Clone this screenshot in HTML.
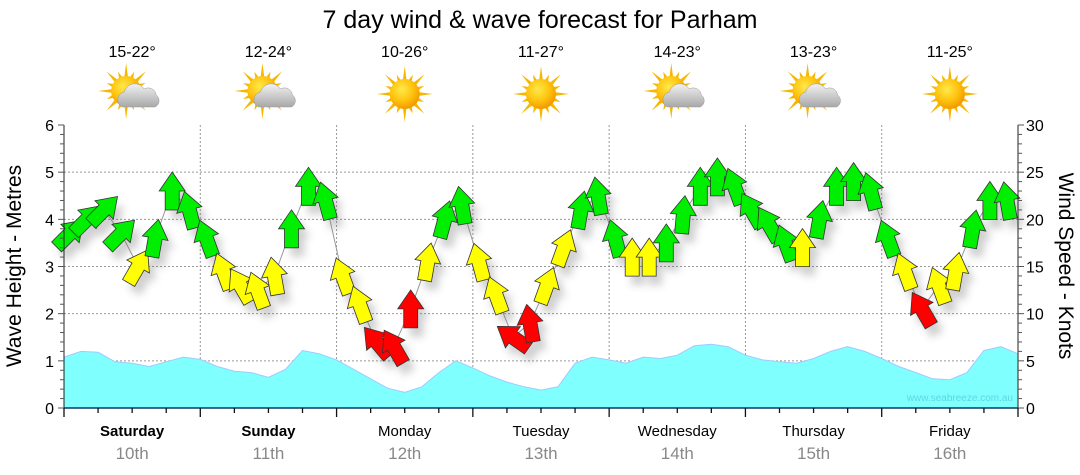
<!DOCTYPE html>
<html><head><meta charset="utf-8"><style>
body{margin:0;background:#fff;width:1080px;height:475px;overflow:hidden;font-family:"Liberation Sans","DejaVu Sans",sans-serif}
svg{display:block}
</style></head><body>
<svg id="chart" width="1080" height="475" xmlns="http://www.w3.org/2000/svg">
<defs>
<radialGradient id="sunG" cx="40%" cy="35%" r="65%"><stop offset="0" stop-color="#ffe94a"/><stop offset="0.6" stop-color="#ffc20e"/><stop offset="1" stop-color="#f29a00"/></radialGradient>
<linearGradient id="cloudG" x1="0" y1="0" x2="0" y2="1"><stop offset="0" stop-color="#f2f2f2"/><stop offset="1" stop-color="#a8a8a8"/></linearGradient>
<filter id="sh" x="-50%" y="-50%" width="200%" height="200%"><feGaussianBlur stdDeviation="4"/></filter>
</defs>
<text x="540" y="28" text-anchor="middle" font-size="25" fill="#000">7 day wind &amp; wave forecast for Parham</text>
<g id="grid"></g>
<g id="waves"></g>
<text x="1013" y="401" text-anchor="end" font-size="10" fill="#5fd6e0">www.seabreeze.com.au</text>
<g id="wind"></g>
<g id="axes"></g>
<g id="days"></g>
<text transform="translate(21,266) rotate(-90)" text-anchor="middle" font-size="21" fill="#000">Wave Height - Metres</text>
<text transform="translate(1059,266) rotate(90)" text-anchor="middle" font-size="21" fill="#000">Wind Speed - Knots</text>
</svg>
<script>
const dayNames=["Saturday","Sunday","Monday","Tuesday","Wednesday","Thursday","Friday"];
const dayDates=["10th","11th","12th","13th","14th","15th","16th"];
const dayBold=[true,true,false,false,false,false,false];
const tempRanges=["15-22°","12-24°","10-26°","11-27°","14-23°","13-23°","11-25°"];
const iconTypes=["cloud","cloud","sun","sun","cloud","cloud","sun"];
const waveTicks=[0,1,2,3,4,5,6];
const windTicks=[0,5,10,15,20,25,30];
// wave height (m), 3-hourly
const waveHeights=[1.08,1.2,1.18,0.98,0.95,0.88,0.98,1.08,1.03,0.88,0.78,0.75,0.65,0.82,1.22,1.15,1.02,0.82,0.62,0.42,0.33,0.45,0.75,1.0,0.85,0.68,0.55,0.45,0.38,0.45,0.95,1.08,1.02,0.95,1.08,1.05,1.12,1.32,1.35,1.3,1.12,1.02,0.98,0.95,1.05,1.2,1.3,1.2,1.05,0.88,0.75,0.62,0.6,0.75,1.22,1.3,1.15];
// wind speed (knots), 3-hourly
const windSpeeds=[18.5,20,21,18.5,15,18,23,21,18,14.5,13,12.5,14,19,23.5,22,14,11,7,6.5,10.5,15.5,20,21.5,15.5,12,7.5,9,13,17,21,22.5,18,16,16,17.5,20.5,23.5,24.5,23.5,21,19.5,17.5,17,20,23.5,24,23,18,14.5,10.5,13,14.5,19,22,22];
// arrow direction (degrees clockwise from up)
const windDirs=[45,45,45,45,30,10,0,-15,-20,-20,-30,-20,-10,0,0,-15,-20,-20,-40,-30,0,10,15,-10,-15,-20,-55,-10,20,20,10,-10,-15,0,0,0,5,0,0,-20,-30,-30,-20,0,10,0,0,-15,-20,-20,-30,-20,10,10,0,-10];

const NS="http://www.w3.org/2000/svg";
const X0=64,X1=1018,Y0=408,Y1=125,dayW=(X1-X0)/7;
const xWave=i=>X0+i*(X1-X0)/56;
const xWind=i=>X0+6+i*(X1-X0)/56;
const yWave=v=>Y0-(v/6)*(Y0-Y1);
const yWind=v=>Y0-(v/30)*(Y0-Y1);
function el(tag,attrs,parent){const e=document.createElementNS(NS,tag);for(const k in attrs)e.setAttribute(k,attrs[k]);parent.appendChild(e);return e;}

const grid=document.getElementById('grid');
waveTicks.forEach(t=>{if(t===0||t===6)return;const y=yWave(t);
 const g=el('line',{x1:X0,x2:X1,y1:y,y2:y,stroke:'#999','stroke-width':1,'stroke-dasharray':'2,2'},grid);
 });
for(let d=1;d<7;d++){const x=X0+d*dayW;
 const g=el('line',{x1:x,x2:x,y1:Y1,y2:Y0,stroke:'#999','stroke-width':1,'stroke-dasharray':'2,2'},grid);
 }

const wg=document.getElementById('waves');
let d='M'+X0+','+Y0;
waveHeights.forEach((v,i)=>{d+=' L'+xWave(i).toFixed(1)+','+yWave(v).toFixed(1);});
d+=' L'+X1+','+Y0+' Z';
const area=el('path',{d:d,fill:'#80ffff',stroke:'#9ecbff','stroke-width':1},wg);


const wd=document.getElementById('wind');
let ld='';
windSpeeds.forEach((v,i)=>{ld+=(i?' L':'M')+xWind(i).toFixed(1)+','+yWind(v).toFixed(1);});
const ln=el('path',{d:ld,fill:'none',stroke:'#999','stroke-width':1},wd);

const shp='-7,19 7,19 7,0 13,0 0,-19 -13,0 -7,0';
const shg=el('g',{filter:'url(#sh)',opacity:0.3},wd);
windSpeeds.forEach((v,i)=>{el('polygon',{points:shp,fill:'#666',transform:`translate(${xWind(i)+6},${yWind(v)+9}) rotate(${windDirs[i]})`},shg);});
windSpeeds.forEach((v,i)=>{
 const col=v<11?'#ff0000':(v<17.5?'#ffff00':'#00ee00');
 const a=el('polygon',{points:shp,fill:col,stroke:'#333','stroke-width':0.8,transform:`translate(${xWind(i).toFixed(1)},${yWind(v).toFixed(1)}) rotate(${windDirs[i]})`},wd);
 
});

const ax=document.getElementById('axes');
el('line',{x1:X0,x2:X0,y1:Y1,y2:Y0,stroke:'#222'},ax);
el('line',{x1:X1,x2:X1,y1:Y1,y2:Y0,stroke:'#222'},ax);
el('line',{x1:X0,x2:X1,y1:Y0,y2:Y0,stroke:'#0a3a6a','stroke-width':1.5},ax);
for(let m=0;m<=30;m++){const y=Y0-m*(Y0-Y1)/30;const big=m%5===0;
 el('line',{x1:X0-(big?6:4),x2:X0,y1:y,y2:y,stroke:'#555'},ax);
 el('line',{x1:X1,x2:X1+(big?6:4),y1:y,y2:y,stroke:'#555'},ax);}
waveTicks.forEach(t=>{const tx=el('text',{x:X0-10,y:yWave(t)+6,'text-anchor':'end','font-size':16,fill:'#000'},ax);tx.textContent=t;
 });
windTicks.forEach(t=>{const tx=el('text',{x:X1+8,y:yWind(t)+6,'font-size':16,fill:'#000'},ax);tx.textContent=t;
 });
for(let q=0;q<=28;q++){const x=X0+q*dayW/4;const big=q%4===0;
 el('line',{x1:x,x2:x,y1:Y0,y2:Y0+(big?9:5),stroke:'#111','stroke-width':1.3},ax);}

const dg=document.getElementById('days');
function sun(g,cx,cy){
 for(let k=0;k<16;k++){const a=k*Math.PI/8;const r=k%2?21:28;
  const p=[[cx+Math.cos(a-0.13)*14,cy+Math.sin(a-0.13)*14],[cx+Math.cos(a)*r,cy+Math.sin(a)*r],[cx+Math.cos(a+0.13)*14,cy+Math.sin(a+0.13)*14]];
  el('polygon',{points:p.map(z=>z.join(',')).join(' '),fill:'#f5b800'},g);}
 el('circle',{cx:cx,cy:cy,r:15,fill:'url(#sunG)'},g);
}
dayNames.forEach((n,i)=>{const cx=X0+(i+0.5)*dayW;
 const g=el('g',{},dg);
 const t=el('text',{x:cx,y:57,'text-anchor':'middle','font-size':16,fill:'#000'},g);t.textContent=tempRanges[i];
 
 const ig=el('g',{},g);
 if(iconTypes[i]==='sun'){sun(ig,cx,94);}
 else{sun(ig,cx-6,91);
  el('path',{d:`M${cx-10},${107} a8,8 0 0 1 2,-15 a11,11 0 0 1 20,-3 a8,8 0 0 1 12,6 a7,7 0 0 1 -1,12 Z`,fill:'url(#cloudG)',stroke:'#999','stroke-width':0.5},ig);}
 const dn=el('text',{x:cx,y:436,'text-anchor':'middle','font-size':15,fill:'#000','font-weight':dayBold[i]?'bold':'normal'},g);dn.textContent=n;
 
 const dt=el('text',{x:cx,y:459,'text-anchor':'middle','font-size':17,fill:'#888'},g);dt.textContent=dayDates[i];
 
});
</script>
</body></html>
